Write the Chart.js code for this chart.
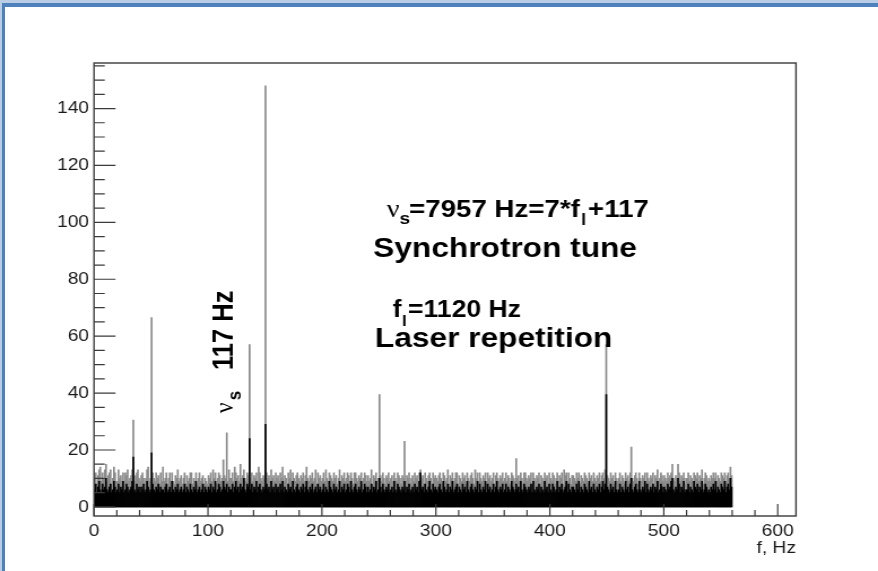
<!DOCTYPE html>
<html>
<head>
<meta charset="utf-8">
<title>Spectrum, f (Hz)</title>
<script src="https://cdn.jsdelivr.net/npm/chart.js@4/dist/chart.umd.min.js"></script>
<style>
  html, body { margin: 0; padding: 0; background: #fff; overflow: hidden; }
  #page { position: relative; width: 878px; height: 571px; overflow: hidden; background: #fff; }
  /* the plot is drawn on a narrower canvas and widened horizontally */
  #wrap { position: absolute; left: 0; top: 0; width: 777px; height: 571px;
          transform: scaleX(1.13); transform-origin: 0 0; }
  .edge { position: absolute; }
</style>
</head>
<body>
<div id="page">
  <div id="wrap"><canvas id="c" width="777" height="571"></canvas></div>
  <div class="edge" style="left:0;top:0;width:878px;height:3px;background:#b9cde5"></div>
  <div class="edge" style="left:0;top:3px;width:878px;height:4px;background:#4f81bd"></div>
  <div class="edge" style="left:0;top:3px;width:2px;height:568px;background:#b9cde5"></div>
  <div class="edge" style="left:2px;top:3px;width:3px;height:568px;background:#4f81bd"></div>
</div>
<script>
// Spectrum in 1 Hz bins from 0 to 560 Hz.
const binWidthHz = 1;

// typical (dark) level of each bin
const levelCounts = [
  6,8,5,7,9,6,5,8,6,7,10,6,5,7,8,5,6,9,7,5,
  6,8,5,7,6,9,5,6,8,7,5,6,7,9,17.5,6,5,8,6,7,
  5,7,6,8,5,6,9,7,5,6,19,8,6,5,7,6,8,5,7,6,
  6,5,7,8,5,6,7,5,9,6,5,7,6,8,5,6,7,5,6,8,
  5,7,6,5,8,6,5,7,6,9,5,6,7,5,6,8,5,7,6,5,
  7,6,8,5,7,6,9,5,6,8,7,5,6,9,7,6,8,5,7,6,
  6,8,5,7,9,6,7,5,8,6,7,10,6,5,8,7,24,6,8,5,
  7,6,9,5,7,8,6,5,7,6,29,8,6,7,5,9,6,7,5,8,
  6,7,5,8,6,9,5,7,6,5,8,6,7,5,9,6,5,7,8,6,
  5,7,6,8,5,7,9,6,5,7,6,8,5,6,7,5,8,6,7,5,
  6,8,5,7,6,5,9,7,6,5,8,6,7,5,6,9,5,7,6,8,
  5,6,8,7,5,9,6,5,7,8,6,5,7,6,9,5,6,8,7,5,
  7,5,6,8,5,7,6,9,5,6,10,7,5,8,6,5,7,6,8,5,
  6,7,5,9,6,5,8,7,6,5,7,6,9,5,7,6,8,5,6,7,
  5,8,6,7,5,9,12,6,7,5,8,6,5,7,9,6,5,8,6,7,
  6,5,7,8,6,5,9,7,5,6,8,5,7,6,9,5,6,7,8,5,
  7,6,5,8,6,7,5,9,6,5,7,8,6,5,7,6,9,5,8,6,
  5,7,6,9,5,8,6,7,5,6,8,5,7,9,6,5,7,6,8,5,
  6,8,5,7,6,5,9,7,6,5,8,6,7,5,9,6,5,8,7,6,
  5,7,6,8,5,9,6,5,7,6,8,5,7,6,5,9,6,7,5,8,
  6,5,8,7,5,6,9,5,7,6,8,5,6,7,9,5,8,6,5,7,
  7,6,5,8,6,9,5,7,6,5,8,7,6,5,9,6,7,5,8,6,
  5,7,6,8,5,7,9,6,8,39.5,7,6,5,8,6,7,5,9,6,5,
  6,8,5,7,6,5,9,6,7,5,8,10,6,5,7,8,6,5,9,6,
  5,7,6,9,5,8,6,5,7,6,8,5,7,6,9,5,6,8,7,5,
  7,6,5,8,6,7,9,10,6,5,7,6,10,8,5,7,6,9,5,6,
  6,8,5,7,6,5,9,7,6,8,5,7,6,9,5,6,8,7,5,6,
  5,7,6,8,6,9,5,7,6,5,8,7,6,9,5,7,8,6,10,7
];

// highest excursion of each bin
const peakCounts = [
  10,12,8,11,13,14,9,12,10,13,15,9,11,12,13,8,10,14,12,9,
  9,13,10,11,9,12,8,12,11,13,9,10,11,13,30.5,9,11,12,13,10,
  9,11,12,10,8,10,13,14,9,10,66.5,12,10,9,12,10,11,8,12,9,
  14,9,10,12,8,10,12,9,12,9,8,11,10,13,9,10,11,8,10,12,
  8,11,9,10,12,12,8,10,9,12,8,10,12,9,10,11,8,10,9,8,
  11,10,12,9,13,10,12,8,10,12,11,9,10,16.5,11,10,26,9,13,10,
  10,12,9,14,12,10,11,9,15,10,11,13,10,9,12,11,57,10,12,9,
  11,10,12,9,14,12,10,9,11,10,148,12,10,11,9,13,10,11,9,12,
  10,11,9,12,10,14,9,11,10,8,12,10,13,9,12,10,9,11,12,10,
  9,11,10,12,9,11,14,10,9,11,10,12,9,10,13,8,12,10,11,9,
  10,12,9,13,10,9,12,11,10,9,12,10,11,8,10,13,9,11,10,12,
  9,10,12,11,9,12,10,8,12,12,10,9,11,10,12,8,10,12,11,9,
  11,9,10,13,8,11,10,12,9,10,39.5,11,9,12,10,8,11,10,12,9,
  10,11,9,12,10,9,12,11,10,8,11,10,23,9,11,10,12,8,10,11,
  9,12,10,11,9,12,13,10,11,8,12,10,9,11,12,10,8,12,10,11,
  10,9,11,12,10,8,12,11,9,10,13,8,11,10,12,9,10,12,12,8,
  11,10,9,12,10,11,8,12,10,9,11,12,10,8,13,10,12,9,12,10,
  9,11,10,12,8,12,10,11,9,10,12,8,11,12,10,9,11,10,12,9,
  10,12,9,11,10,8,12,11,10,9,17,10,11,9,12,10,8,12,12,10,
  9,11,10,12,8,12,10,9,11,10,12,8,11,10,9,12,10,11,8,12,
  10,9,12,11,8,10,12,9,11,10,12,8,13,11,12,9,12,10,8,11,
  11,10,9,12,10,12,8,11,10,9,12,11,10,8,12,10,11,9,12,10,
  9,11,10,12,9,11,12,10,13,57,11,10,9,12,10,11,8,12,10,9,
  10,12,9,11,10,8,12,10,11,9,12,21,10,9,11,12,10,8,12,10,
  9,11,10,12,8,12,10,9,11,10,12,8,11,10,13,9,10,12,11,9,
  11,10,9,12,10,11,12,15,10,9,11,10,15,12,9,11,10,12,8,10,
  10,12,9,11,10,9,12,11,10,12,9,11,10,13,8,10,12,11,9,10,
  9,11,10,12,10,12,9,11,10,9,12,11,10,12,9,11,12,10,14,11
];

const xTickValues = [0, 100, 200, 300, 400, 500, 600];
const yTickValues = [0, 20, 40, 60, 80, 100, 120, 140];

const stretchX = 1.13;           // horizontal widening applied by CSS
const ink = '#1a1a1a';

const toPoints = arr => arr.map((v, i) => ({ x: (i + 0.5) * binWidthHz, y: v }));

Chart.defaults.font.family = '"Liberation Sans", Arial, sans-serif';

// frame round the plot area and inward tick marks
const axisDecor = {
  id: 'axisDecor',
  afterDatasetsDraw(chart) {
    const { ctx, chartArea: a, scales: { x, y } } = chart;
    ctx.save();
    ctx.strokeStyle = '#3a3a3a';
    ctx.lineWidth = 1.4;
    ctx.strokeRect(a.left, a.top, a.right - a.left, a.bottom - a.top);
    ctx.lineWidth = 1.2;
    ctx.beginPath();
    for (let v = 0; v <= 155; v += 5) {
      const py = y.getPixelForValue(v);
      const len = v % 20 === 0 ? 19 : 9.5;
      ctx.moveTo(a.left, py);
      ctx.lineTo(a.left + len, py);
    }
    for (let v = 0; v <= 600; v += 20) {
      const px = x.getPixelForValue(v);
      const len = v % 100 === 0 ? 12 : 6;
      ctx.moveTo(px, a.bottom);
      ctx.lineTo(px, a.bottom - len);
    }
    ctx.stroke();
    ctx.restore();
  }
};

// text notes on the plot
const notes = {
  id: 'notes',
  afterDraw(chart) {
    const ctx = chart.ctx;
    const put = (s, X, Y, font, align) => {
      ctx.font = font;
      ctx.textAlign = align || 'left';
      ctx.fillText(s, X / stretchX, Y);
    };
    ctx.save();
    ctx.fillStyle = '#000';
    ctx.textBaseline = 'alphabetic';
    const sans = '"Liberation Sans", Arial, sans-serif';
    const serif = '"Liberation Serif", serif';

    put('\u03BD', 386.7, 216.7, '25px ' + serif);
    put('s', 399.5, 223.5, 'bold 17px ' + sans);
    put('=7957 Hz=7*f', 409, 216.7, 'bold 24.5px ' + sans);
    put('l', 581, 224.5, 'bold 16px ' + sans);
    put('+117', 588, 216.7, 'bold 24.5px ' + sans);

    put('Synchrotron tune', 373.3, 257.3, 'bold 28px ' + sans);

    put('f', 392.7, 316.7, 'bold 23.5px ' + sans);
    put('l', 402, 325.5, 'bold 15px ' + sans);
    put('=1120 Hz', 408, 316.7, 'bold 23.5px ' + sans);

    put('Laser repetition', 375, 346.7, 'bold 28px ' + sans);

    // vertical label, reading upwards
    ctx.translate(233 / stretchX, 413.3);
    ctx.rotate(-Math.PI / 2);
    ctx.textAlign = 'left';
    ctx.font = '24px ' + serif;
    ctx.fillText('\u03BD', 0, 0);
    ctx.font = 'bold 17px ' + sans;
    ctx.fillText('s', 13, 6.5);
    ctx.font = 'bold 25.5px ' + sans;
    ctx.fillText('117 Hz', 43.3, 0);
    ctx.restore();
  }
};

new Chart(document.getElementById('c'), {
  type: 'bar',
  data: {
    datasets: [
      { label: 'level', data: toPoints(levelCounts), backgroundColor: '#000000', order: 1 },
      { label: 'peak', data: toPoints(peakCounts), backgroundColor: '#8a8a8a', order: 2 }
    ]
  },
  options: {
    responsive: false,
    animation: false,
    devicePixelRatio: 1,
    layout: { padding: { left: 0, right: 72.6, top: 63, bottom: 0 } },
    plugins: { legend: { display: false }, tooltip: { enabled: false } },
    datasets: { bar: { grouped: false, barPercentage: 1, categoryPercentage: 1, borderWidth: 0 } },
    scales: {
      x: {
        type: 'linear', min: 0, max: 616, offset: false,
        grid: { display: false, drawTicks: false }, border: { display: false },
        afterBuildTicks: s => { s.ticks = xTickValues.map(v => ({ value: v })); },
        afterFit: s => { s.height = 55; },
        ticks: { padding: 5, color: ink, font: { size: 17 }, maxRotation: 0, autoSkip: false },
        title: { display: true, text: 'f, Hz', align: 'end', color: ink,
                 font: { size: 17 }, padding: { top: 0, bottom: 12 } }
      },
      y: {
        type: 'linear', min: -3.2, max: 156,
        grid: { display: false, drawTicks: false }, border: { display: false },
        afterBuildTicks: s => { s.ticks = yTickValues.map(v => ({ value: v })); },
        afterFit: s => { s.width = 83.2; },
        ticks: { padding: 4.4, color: ink, font: { size: 17 }, autoSkip: false }
      }
    }
  },
  plugins: [axisDecor, notes]
});
</script>
</body>
</html>
